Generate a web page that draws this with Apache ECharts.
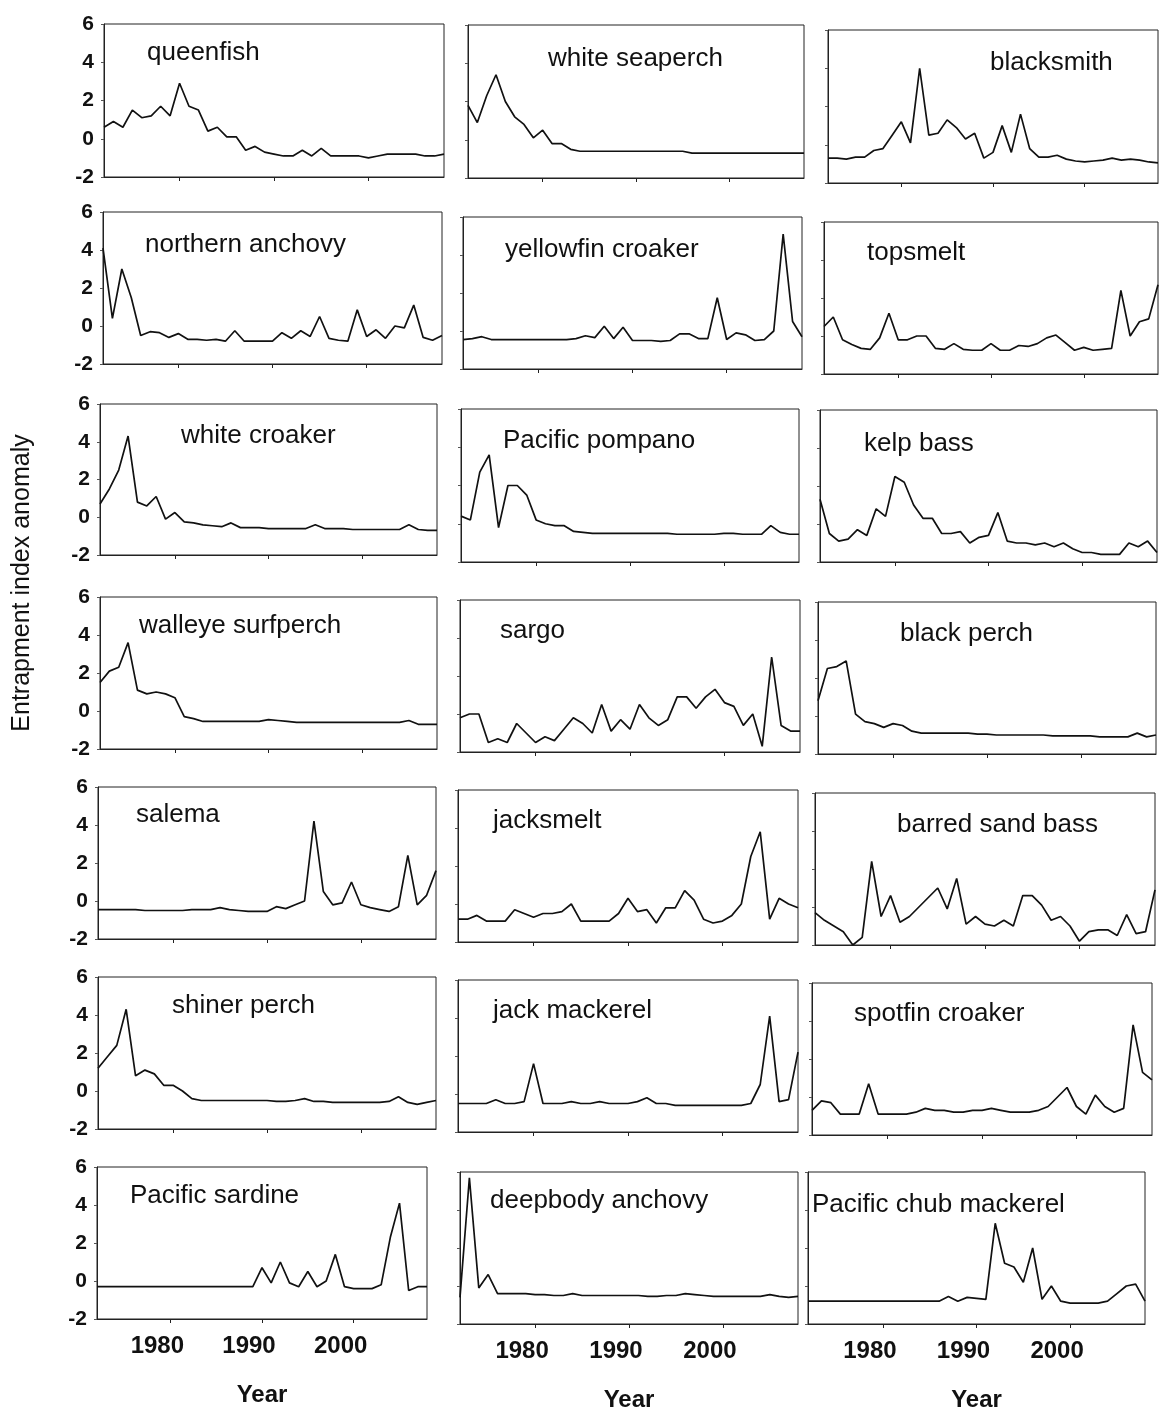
<!DOCTYPE html>
<html>
<head>
<meta charset="utf-8">
<script src="https://cdn.jsdelivr.net/npm/echarts@6/dist/echarts.min.js"></script>
<style>
  html, body { margin: 0; padding: 0; background: #fff; }
  #chart { width: 1159px; height: 1414px; }
</style>
</head>
<body>
<div id="chart"></div>
<script>
var years = [1972, 1973, 1974, 1975, 1976, 1977, 1978, 1979, 1980, 1981, 1982, 1983, 1984,
  1985, 1986, 1987, 1988, 1989, 1990, 1991, 1992, 1993, 1994, 1995, 1996, 1997, 1998,
  1999, 2000, 2001, 2002, 2003, 2004, 2005, 2006, 2007, 2008];
var xLabelYears = [1980, 1990, 2000];

var queenfish = [0.6, 0.9, 0.6, 1.5, 1.1, 1.2, 1.7, 1.2, 2.9, 1.7, 1.5, 0.4, 0.6, 0.1, 0.1, -0.6, -0.4, -0.7, -0.8, -0.9, -0.9, -0.6, -0.9, -0.5, -0.9, -0.9, -0.9, -0.9, -1.0, -0.9, -0.8, -0.8, -0.8, -0.8, -0.9, -0.9, -0.8];
var whiteSeaperch = [1.8, 0.9, 2.3, 3.4, 2.0, 1.2, 0.8, 0.1, 0.5, -0.2, -0.2, -0.5, -0.6, -0.6, -0.6, -0.6, -0.6, -0.6, -0.6, -0.6, -0.6, -0.6, -0.6, -0.6, -0.7, -0.7, -0.7, -0.7, -0.7, -0.7, -0.7, -0.7, -0.7, -0.7, -0.7, -0.7, -0.7];
var blacksmith = [-0.7, -0.7, -0.75, -0.65, -0.65, -0.3, -0.2, 0.5, 1.2, 0.1, 4.0, 0.5, 0.6, 1.3, 0.9, 0.3, 0.6, -0.7, -0.4, 1.0, -0.4, 1.6, -0.2, -0.65, -0.65, -0.55, -0.75, -0.85, -0.9, -0.85, -0.8, -0.7, -0.8, -0.75, -0.8, -0.9, -0.95];
var northernAnchovy = [4.1, 0.4, 3.0, 1.5, -0.5, -0.3, -0.35, -0.6, -0.4, -0.7, -0.7, -0.75, -0.7, -0.8, -0.25, -0.8, -0.8, -0.8, -0.8, -0.35, -0.65, -0.25, -0.55, 0.5, -0.65, -0.75, -0.8, 0.85, -0.55, -0.2, -0.65, 0.0, -0.1, 1.1, -0.6, -0.75, -0.5];
var yellowfinCroaker = [-0.45, -0.4, -0.3, -0.45, -0.45, -0.45, -0.45, -0.45, -0.45, -0.45, -0.45, -0.45, -0.4, -0.25, -0.35, 0.25, -0.4, 0.2, -0.5, -0.5, -0.5, -0.55, -0.5, -0.15, -0.15, -0.4, -0.4, 1.75, -0.45, -0.1, -0.2, -0.5, -0.45, 0.0, 5.1, 0.5, -0.3];
var topsmelt = [0.5, 1.0, -0.2, -0.45, -0.65, -0.7, -0.1, 1.2, -0.2, -0.2, 0.0, 0.0, -0.65, -0.7, -0.4, -0.7, -0.75, -0.75, -0.4, -0.75, -0.75, -0.5, -0.55, -0.4, -0.1, 0.05, -0.35, -0.75, -0.6, -0.75, -0.7, -0.65, 2.4, 0.0, 0.75, 0.9, 2.7];
var whiteCroaker = [0.7, 1.5, 2.5, 4.3, 0.8, 0.6, 1.1, -0.1, 0.25, -0.25, -0.3, -0.4, -0.45, -0.5, -0.3, -0.55, -0.55, -0.55, -0.6, -0.6, -0.6, -0.6, -0.6, -0.4, -0.6, -0.6, -0.6, -0.65, -0.65, -0.65, -0.65, -0.65, -0.65, -0.4, -0.65, -0.7, -0.7];
var pacificPompano = [0.4, 0.2, 2.7, 3.6, -0.2, 2.0, 2.0, 1.5, 0.2, 0.0, -0.1, -0.1, -0.4, -0.45, -0.5, -0.5, -0.5, -0.5, -0.5, -0.5, -0.5, -0.5, -0.5, -0.55, -0.55, -0.55, -0.55, -0.55, -0.5, -0.5, -0.55, -0.55, -0.55, -0.1, -0.45, -0.55, -0.55];
var kelpBass = [1.3, -0.5, -0.9, -0.8, -0.3, -0.6, 0.8, 0.4, 2.5, 2.2, 1.0, 0.3, 0.3, -0.5, -0.5, -0.4, -1.0, -0.7, -0.6, 0.6, -0.9, -1.0, -1.0, -1.1, -1.0, -1.2, -1.0, -1.3, -1.5, -1.5, -1.6, -1.6, -1.6, -1.0, -1.2, -0.9, -1.5];
var walleyeSurfperch = [1.5, 2.1, 2.3, 3.6, 1.1, 0.9, 1.0, 0.9, 0.7, -0.3, -0.4, -0.55, -0.55, -0.55, -0.55, -0.55, -0.55, -0.55, -0.45, -0.5, -0.55, -0.6, -0.6, -0.6, -0.6, -0.6, -0.6, -0.6, -0.6, -0.6, -0.6, -0.6, -0.6, -0.5, -0.7, -0.7, -0.7];
var sargo = [-0.2, 0.0, 0.0, -1.5, -1.3, -1.5, -0.5, -1.0, -1.5, -1.2, -1.4, -0.8, -0.2, -0.5, -1.0, 0.5, -0.9, -0.3, -0.8, 0.5, -0.2, -0.6, -0.3, 0.9, 0.9, 0.3, 0.9, 1.3, 0.6, 0.4, -0.6, 0.0, -1.7, 3.0, -0.6, -0.9, -0.9];
var blackPerch = [0.8, 2.5, 2.6, 2.9, 0.1, -0.3, -0.4, -0.6, -0.4, -0.5, -0.8, -0.9, -0.9, -0.9, -0.9, -0.9, -0.9, -0.95, -0.95, -1.0, -1.0, -1.0, -1.0, -1.0, -1.0, -1.05, -1.05, -1.05, -1.05, -1.05, -1.1, -1.1, -1.1, -1.1, -0.9, -1.1, -1.0];
var salema = [-0.45, -0.45, -0.45, -0.45, -0.45, -0.5, -0.5, -0.5, -0.5, -0.5, -0.45, -0.45, -0.45, -0.35, -0.45, -0.5, -0.55, -0.55, -0.55, -0.3, -0.4, -0.2, 0.0, 4.2, 0.5, -0.2, -0.1, 1.0, -0.2, -0.35, -0.45, -0.55, -0.3, 2.4, -0.2, 0.3, 1.6];
var jacksmelt = [-0.8, -0.8, -0.6, -0.9, -0.9, -0.9, -0.3, -0.5, -0.7, -0.5, -0.5, -0.4, 0.0, -0.9, -0.9, -0.9, -0.9, -0.5, 0.3, -0.4, -0.3, -1.0, -0.2, -0.2, 0.7, 0.2, -0.8, -1.0, -0.9, -0.6, 0.0, 2.5, 3.8, -0.8, 0.3, 0.0, -0.2];
var barredSandBass = [-0.3, -0.7, -1.0, -1.3, -2.0, -1.6, 2.4, -0.5, 0.6, -0.8, -0.5, 0.0, 0.5, 1.0, -0.1, 1.5, -0.9, -0.5, -0.9, -1.0, -0.7, -1.0, 0.6, 0.6, 0.1, -0.7, -0.5, -1.0, -1.8, -1.3, -1.2, -1.2, -1.5, -0.4, -1.4, -1.3, 0.9];
var shinerPerch = [1.2, 1.8, 2.4, 4.3, 0.8, 1.1, 0.9, 0.3, 0.3, 0.0, -0.4, -0.5, -0.5, -0.5, -0.5, -0.5, -0.5, -0.5, -0.5, -0.55, -0.55, -0.5, -0.4, -0.55, -0.55, -0.6, -0.6, -0.6, -0.6, -0.6, -0.6, -0.55, -0.3, -0.6, -0.7, -0.6, -0.5];
var jackMackerel = [-0.5, -0.5, -0.5, -0.5, -0.3, -0.5, -0.5, -0.4, 1.6, -0.5, -0.5, -0.5, -0.4, -0.5, -0.5, -0.4, -0.5, -0.5, -0.5, -0.4, -0.2, -0.5, -0.5, -0.6, -0.6, -0.6, -0.6, -0.6, -0.6, -0.6, -0.6, -0.5, 0.5, 4.1, -0.4, -0.3, 2.2];
var spotfinCroaker = [-0.7, -0.2, -0.3, -0.9, -0.9, -0.9, 0.7, -0.9, -0.9, -0.9, -0.9, -0.8, -0.6, -0.7, -0.7, -0.8, -0.8, -0.7, -0.7, -0.6, -0.7, -0.8, -0.8, -0.8, -0.7, -0.5, 0.0, 0.5, -0.5, -0.9, 0.1, -0.5, -0.8, -0.6, 3.8, 1.3, 0.9];
var pacificSardine = [-0.3, -0.3, -0.3, -0.3, -0.3, -0.3, -0.3, -0.3, -0.3, -0.3, -0.3, -0.3, -0.3, -0.3, -0.3, -0.3, -0.3, -0.3, 0.7, -0.1, 1.0, -0.1, -0.3, 0.5, -0.3, 0.0, 1.4, -0.3, -0.4, -0.4, -0.4, -0.2, 2.3, 4.1, -0.5, -0.3, -0.3];
var deepbodyAnchovy = [-0.6, 5.7, -0.1, 0.6, -0.4, -0.4, -0.4, -0.4, -0.45, -0.45, -0.5, -0.5, -0.4, -0.5, -0.5, -0.5, -0.5, -0.5, -0.5, -0.5, -0.55, -0.55, -0.5, -0.5, -0.4, -0.45, -0.5, -0.55, -0.55, -0.55, -0.55, -0.55, -0.55, -0.45, -0.55, -0.6, -0.55];
var chubMackerel = [-0.8, -0.8, -0.8, -0.8, -0.8, -0.8, -0.8, -0.8, -0.8, -0.8, -0.8, -0.8, -0.8, -0.8, -0.8, -0.55, -0.8, -0.6, -0.65, -0.7, 3.3, 1.2, 1.0, 0.2, 2.0, -0.7, 0.0, -0.8, -0.9, -0.9, -0.9, -0.9, -0.8, -0.4, 0.0, 0.1, -0.8];

var panels = [
  ['queenfish', queenfish], ['white seaperch', whiteSeaperch], ['blacksmith', blacksmith],
  ['northern anchovy', northernAnchovy], ['yellowfin croaker', yellowfinCroaker], ['topsmelt', topsmelt],
  ['white croaker', whiteCroaker], ['Pacific pompano', pacificPompano], ['kelp bass', kelpBass],
  ['walleye surfperch', walleyeSurfperch], ['sargo', sargo], ['black perch', blackPerch],
  ['salema', salema], ['jacksmelt', jacksmelt], ['barred sand bass', barredSandBass],
  ['shiner perch', shinerPerch], ['jack mackerel', jackMackerel], ['spotfin croaker', spotfinCroaker],
  ['Pacific sardine', pacificSardine], ['deepbody anchovy', deepbodyAnchovy], ['Pacific chub mackerel', chubMackerel]
];

// plot boxes [left, top, width, height] (the scanned panels are not perfectly aligned)
var boxes = [
  [104, 24, 340, 153], [468, 25, 336, 153], [828, 30, 330, 153],
  [103, 212, 339, 152], [463, 217, 339, 152], [824, 222, 334, 152],
  [100, 404, 337, 151], [461, 409, 338, 153], [820, 410, 337, 152],
  [100, 597, 337, 152], [460, 600, 340, 152], [818, 602, 338, 152],
  [98, 787, 338, 152], [458, 790, 340, 152], [815, 793, 340, 152],
  [98, 977, 338, 152], [458, 980, 340, 152], [812, 983, 340, 152],
  [97, 1167, 330, 152], [460, 1172, 338, 152], [808, 1172, 337, 152]
];
// panel name positions [left, top]
var namePos = [
  [147, 40], [548, 46], [990, 50],
  [145, 232], [505, 237], [867, 240],
  [181, 423], [503, 428], [864, 431],
  [139, 613], [500, 618], [900, 621],
  [136, 802], [493, 808], [897, 812],
  [172, 993], [493, 998], [854, 1001],
  [130, 1183], [490, 1188], [812, 1192]
];

var font = 'Liberation Sans, Arial, sans-serif';
var tenYear = function (idx, val) { return xLabelYears.indexOf(Number(val)) >= 0; };

var grids = [], xAxes = [], yAxes = [], series = [], titles = [];
panels.forEach(function (p, i) {
  var b = boxes[i];
  var col = i % 3;
  var bottomRow = i >= 18;
  grids.push({
    left: b[0], top: b[1], width: b[2], height: b[3],
    show: true, borderColor: '#222', borderWidth: 1
  });
  xAxes.push({
    type: 'category', gridIndex: i, data: years, boundaryGap: false,
    axisLine: { show: true, onZero: false, lineStyle: { color: '#222', width: 1 } },
    axisTick: { show: true, interval: tenYear, length: 4, lineStyle: { color: '#222' } },
    axisLabel: {
      show: bottomRow, interval: tenYear, margin: 15, padding: [0, 26, 0, 0],
      color: '#111', fontSize: 24, fontWeight: 'bold', fontFamily: font
    },
    name: bottomRow ? 'Year' : '', nameLocation: 'middle', nameGap: 64,
    nameTextStyle: { color: '#111', fontSize: 24, fontWeight: 'bold', fontFamily: font },
    splitLine: { show: false }
  });
  yAxes.push({
    type: 'value', gridIndex: i, min: -2, max: 6, interval: 2,
    axisLine: { show: true, onZero: false, lineStyle: { color: '#222', width: 1 } },
    axisTick: { show: true, length: 3, lineStyle: { color: '#555' } },
    axisLabel: {
      show: col === 0, margin: 10, color: '#111',
      fontSize: 21, fontWeight: 'bold', fontFamily: font
    },
    splitLine: { show: false }
  });
  series.push({
    name: p[0], type: 'line', xAxisIndex: i, yAxisIndex: i, data: p[1],
    showSymbol: false, symbol: 'none', smooth: false,
    lineStyle: { color: '#111', width: 1.7 }
  });
  titles.push({
    text: p[0], left: namePos[i][0], top: namePos[i][1], padding: 0,
    textStyle: { color: '#111', fontSize: 26, fontWeight: 'normal', fontFamily: font }
  });
});

var chart = echarts.init(document.getElementById('chart'));
chart.setOption({
  backgroundColor: '#fff',
  animation: false,
  title: titles,
  grid: grids,
  xAxis: xAxes,
  yAxis: yAxes,
  series: series,
  graphic: [{
    type: 'text', x: 22, y: 583, rotation: Math.PI / 2,
    style: {
      text: 'Entrapment index anomaly', fill: '#111',
      font: 'normal 25px Liberation Sans, Arial, sans-serif',
      textAlign: 'center', textVerticalAlign: 'middle'
    }
  }]
});
</script>
</body>
</html>
